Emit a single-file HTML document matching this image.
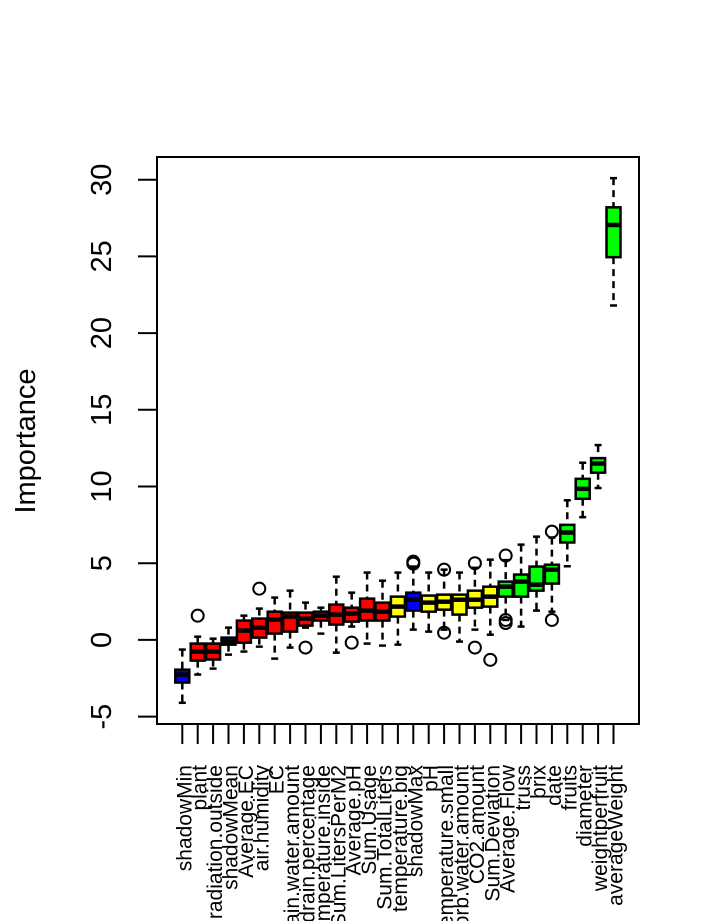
<!DOCTYPE html>
<html><head><meta charset="utf-8"><style>
body{margin:0;background:#fff}
svg{display:block;font-family:"Liberation Sans",Arial,sans-serif}
</style></head><body>
<svg id="chart" width="720" height="921" xmlns="http://www.w3.org/2000/svg">
<rect x="157" y="157" width="482" height="567" fill="none" stroke="#000" stroke-width="2"/>
<g id="marks"></g>
<g id="axes"></g>
<text x="35" y="441" font-size="29" text-anchor="middle" transform="rotate(-90 35 441)">Importance</text>
</svg>
<script>
const categories=["shadowMin","plant","radiation.outside","shadowMean","Average.EC","air.humidity","EC","drain.water.amount","drain.percentage","temperature.inside","Sum.LitersPerM2","Average.pH","Sum.Usage","Sum.TotalLiters","temperature.big","shadowMax","pH","temperature.small","absorb.water.amount","CO2.amount","Sum.Deviation","Average.Flow","truss","brix","date","fruits","diameter","weightperfruit","averageWeight"];
const groups=["blue","red","red","blue","red","red","red","red","red","red","red","red","red","red","yellow","blue","yellow","yellow","yellow","yellow","yellow","green","green","green","green","green","green","green","green"];
const whiskerLow=[-4.1,-2.26,-1.87,-0.96,-0.76,-0.44,-1.22,-0.5,0.8,0.41,-0.83,0.87,-0.24,-0.37,-0.31,0.67,0.54,0.67,-0.11,0.67,0.34,1.3,0.87,1.91,1.84,4.8,8.0,9.9,21.8];
const q1=[-2.78,-1.35,-1.28,-0.31,-0.18,0.15,0.41,0.54,0.93,1.26,1.0,1.19,1.26,1.26,1.52,1.91,1.84,1.97,1.65,2.1,2.17,2.82,2.82,3.21,3.67,6.35,9.2,10.9,24.95];
const medians=[-2.26,-0.76,-0.76,-0.11,0.61,0.8,1.32,1.52,1.39,1.58,1.65,1.71,1.91,1.84,2.17,2.62,2.43,2.49,2.62,2.62,2.82,3.47,3.8,3.6,4.58,7.0,9.85,11.5,27.05];
const q3=[-1.94,-0.24,-0.24,0.15,1.26,1.39,1.84,1.78,1.78,1.84,2.3,2.1,2.69,2.43,2.82,3.08,2.89,2.95,2.95,3.21,3.47,3.8,4.26,4.78,4.9,7.5,10.5,11.85,28.2];
const whiskerHigh=[-0.63,0.21,0.08,0.8,1.58,2.04,2.76,3.21,2.43,2.1,4.12,3.08,4.39,3.86,4.39,4.78,4.39,4.58,4.39,4.7,5.23,5.2,6.21,6.73,6.67,9.1,11.55,12.7,30.1];
const outlierIdx=[1,5,8,11,15,15,17,17,19,19,20,21,21,21,24,24];
const outlierVal=[1.58,3.34,-0.5,-0.18,5.1,4.97,4.58,0.47,5.0,-0.5,-1.3,5.5,1.3,1.1,7.06,1.3];
const yTicks=[-5,0,5,10,15,20,25,30];
const colorMap={blue:"#0000ff",red:"#ff0000",yellow:"#ffff00",green:"#00ff00"};
const NS="http://www.w3.org/2000/svg";
const x0=182.3,dx=15.4;
function xs(i){return x0+i*dx;}
function ys(v){return 179.7+(30-v)*15.34;}
const marks=document.getElementById('marks'),axes=document.getElementById('axes');
function mk(tag,attrs,parent){const e=document.createElementNS(NS,tag);for(const k in attrs)e.setAttribute(k,attrs[k]);parent.appendChild(e);return e;}
const bw=14;
categories.forEach((c,i)=>{
  const x=xs(i);
  const g=mk('g',{},marks);
  
  
  mk('line',{x1:x,x2:x,y1:ys(whiskerHigh[i]),y2:ys(q3[i]),stroke:'#000','stroke-width':2.5,'stroke-dasharray':'7,5'},g);
  mk('line',{x1:x,x2:x,y1:ys(q1[i]),y2:ys(whiskerLow[i]),stroke:'#000','stroke-width':2.5,'stroke-dasharray':'7,5'},g);
  mk('line',{x1:x-3.5,x2:x+3.5,y1:ys(whiskerHigh[i]),y2:ys(whiskerHigh[i]),stroke:'#000','stroke-width':2.5},g);
  mk('line',{x1:x-3.5,x2:x+3.5,y1:ys(whiskerLow[i]),y2:ys(whiskerLow[i]),stroke:'#000','stroke-width':2.5},g);
  mk('rect',{x:x-bw/2,y:ys(q3[i]),width:bw,height:ys(q1[i])-ys(q3[i]),fill:colorMap[groups[i]],stroke:'#000','stroke-width':2.5},g);
  mk('line',{x1:x-bw/2,x2:x+bw/2,y1:ys(medians[i]),y2:ys(medians[i]),stroke:'#000','stroke-width':4.5},g);
  const t=mk('line',{x1:x,x2:x,y1:724,y2:744,stroke:'#000','stroke-width':2},axes);
  
  
  const lx=x+9,ly=765;
  const lab=mk('text',{x:lx,y:ly,'font-size':21,'text-anchor':'end',transform:'rotate(-90 '+lx+' '+ly+')'},axes);
  lab.textContent=c;
  
  
});
outlierIdx.forEach((i,k)=>{
  const o=mk('circle',{cx:xs(i),cy:ys(outlierVal[k]),r:6,fill:'none',stroke:'#000','stroke-width':2},marks);
  
  
});
mk('line',{x1:xs(0),x2:xs(categories.length-1),y1:724,y2:724,stroke:'#000','stroke-width':2},axes);
mk('line',{x1:157,x2:157,y1:ys(yTicks[yTicks.length-1]),y2:ys(yTicks[0]),stroke:'#000','stroke-width':2},axes);
yTicks.forEach(v=>{
  const y=ys(v);
  const t=mk('line',{x1:138,x2:157,y1:y,y2:y,stroke:'#000','stroke-width':2},axes);
  
  
  const lab=mk('text',{x:111,y:y,'font-size':29,'text-anchor':'middle',transform:'rotate(-90 111 '+y+')'},axes);
  lab.textContent=String(v);
  
  
});
</script>
</body></html>
